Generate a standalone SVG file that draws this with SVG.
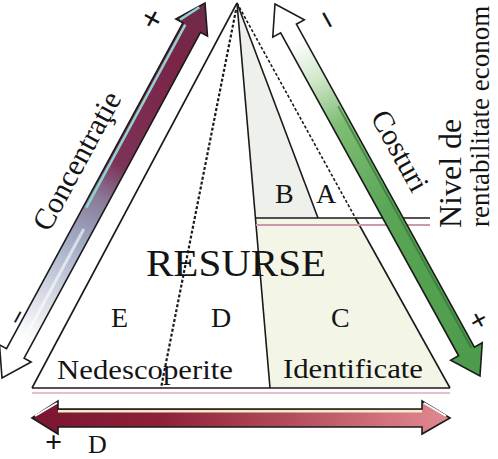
<svg xmlns="http://www.w3.org/2000/svg" width="498" height="459" viewBox="0 0 498 459">
<style>
  text { font-family: "Liberation Serif", "Times New Roman", serif; fill: #141414; }
  .ln { stroke: #1a1a1a; stroke-width: 1.6; fill: none; }
  .dash { stroke: #1a1a1a; stroke-width: 2.2; stroke-dasharray: 3 2; fill: none; }
  .arr { stroke: #1b1b1b; stroke-width: 1.6; stroke-linejoin: miter; }
  .lbl { font-size: 28px; }
  .sign { font-size: 34px; font-weight: bold; text-anchor: middle; }
  .sign-s { font-size: 30px; font-weight: bold; text-anchor: middle; }
</style>
<defs>
  <linearGradient id="gL" gradientUnits="userSpaceOnUse" x1="0" y1="0" x2="426.4" y2="0">
    <stop offset="0" stop-color="#ffffff"/>
    <stop offset="0.1" stop-color="#ffffff"/>
    <stop offset="0.22" stop-color="#d6dae4"/>
    <stop offset="0.36" stop-color="#a2adc6"/>
    <stop offset="0.48" stop-color="#8a7a98"/>
    <stop offset="0.57" stop-color="#7c3358"/>
    <stop offset="0.85" stop-color="#7a2446"/>
    <stop offset="1" stop-color="#6e2c4a"/>
  </linearGradient>
  <linearGradient id="gR" gradientUnits="userSpaceOnUse" x1="0" y1="0" x2="424.7" y2="0">
    <stop offset="0" stop-color="#ffffff"/>
    <stop offset="0.1" stop-color="#ffffff"/>
    <stop offset="0.2" stop-color="#d3e8cc"/>
    <stop offset="0.32" stop-color="#7fbd75"/>
    <stop offset="0.55" stop-color="#5aa657"/>
    <stop offset="1" stop-color="#4d9a4b"/>
  </linearGradient>
  <linearGradient id="gB" gradientUnits="userSpaceOnUse" x1="32" y1="0" x2="450" y2="0">
    <stop offset="0" stop-color="#7a1630"/>
    <stop offset="0.3" stop-color="#8d2038"/>
    <stop offset="0.6" stop-color="#b04a5a"/>
    <stop offset="0.85" stop-color="#d2737e"/>
    <stop offset="1" stop-color="#e08a90"/>
  </linearGradient>
</defs>

<rect width="498" height="459" fill="#ffffff"/>

<g id="regions">
  <polygon points="237,5 255.4,218 318,218" fill="#eef0eb"/>
  <polygon points="255.4,218 355.4,218 449,388 270,388" fill="#f3f6e6"/>
</g>

<g id="connectors">
  <line x1="237" y1="3" x2="32" y2="388" class="ln"/>
  <line x1="32" y1="388" x2="450" y2="388" class="ln" stroke-width="2"/>
  <line x1="32" y1="393" x2="450" y2="393" stroke="#dcaab8" stroke-width="1.5"/>
  <line x1="237" y1="3" x2="355.4" y2="218" class="dash" style="stroke-width:1.6"/>
  <line x1="355.4" y1="218" x2="450" y2="388" class="ln"/>
  <line x1="237" y1="3" x2="270" y2="388" class="ln"/>
  <line x1="237" y1="3" x2="318" y2="218" class="ln"/>
  <line x1="236" y1="10" x2="161" y2="388" class="dash"/>
  <line x1="255" y1="218" x2="430" y2="218" class="ln"/>
  <line x1="256" y1="225" x2="430" y2="225" stroke="#c99aab" stroke-width="2"/>
</g>

<g id="arrow-concentratie" transform="translate(2,378) rotate(-61.57)">
  <polygon class="arr" fill="url(#gL)" points="0,0 28,-18 28,-10 398.4,-10 398.4,-18 426.4,0 398.4,18 398.4,10 28,10 28,18"/>
  <line x1="190" y1="-7" x2="398" y2="-7" stroke="#8fd3cf" stroke-width="2.5"/>
  <line x1="400" y1="-14" x2="420" y2="-3" stroke="#8fd3cf" stroke-width="2.5"/>
  <line x1="40" y1="1" x2="170" y2="1" stroke="#ffffff" stroke-width="3" opacity="0.6"/>
</g>

<g id="arrow-costuri" transform="translate(275,4) rotate(61.14)">
  <polygon class="arr" fill="url(#gR)" points="0,0 28,-18 28,-9 396.7,-9 396.7,-18 424.7,0 396.7,18 396.7,9 28,9 28,18"/>
  <line x1="120" y1="-6" x2="396" y2="-6" stroke="#2e6e30" stroke-width="2" opacity="0.6"/>
</g>

<g id="arrow-d">
  <polygon class="arr" fill="url(#gB)" points="32,418 58,401 58,409 422,409 422,401 450,418 422,434 422,427 58,427 58,434"/>
  <line x1="58" y1="411.2" x2="422" y2="411.2" stroke="#f4ecc6" stroke-width="2.5"/>
  <line x1="35" y1="416" x2="57" y2="403" stroke="#ffffff" stroke-width="2"/>
  <line x1="424" y1="403" x2="446" y2="416" stroke="#ffffff" stroke-width="2"/>
</g>

<g id="labels">
  <text x="146" y="276" font-size="38" textLength="180" lengthAdjust="spacingAndGlyphs">RESURSE</text>
  <text class="lbl" x="111" y="327">E</text>
  <text class="lbl" x="211" y="327">D</text>
  <text class="lbl" x="331" y="327">C</text>
  <text class="lbl" x="275" y="203">B</text>
  <text class="lbl" x="316" y="203">A</text>
  <text x="57" y="379" font-size="27" textLength="176" lengthAdjust="spacingAndGlyphs">Nedescoperite</text>
  <text x="283" y="378" font-size="27" textLength="140" lengthAdjust="spacingAndGlyphs">Identificate</text>
  <text x="45" y="452" font-size="30" font-weight="bold">+</text>
  <text x="88" y="453" font-size="26">D</text>
  <text transform="translate(49,233) rotate(-61.57)" x="0" y="0" font-size="30">Concentraţie</text>
  <text transform="translate(370,117) rotate(61.14)" x="0" y="0" font-size="30">Costuri</text>
  <text transform="translate(461,228) rotate(-90)" x="0" y="0" font-size="32">Nivel de</text>
  <text transform="translate(489,227) rotate(-90)" x="0" y="0" font-size="27">rentabilitate econom</text>
  <text class="sign" transform="translate(154,20) rotate(-61.57)" x="0" y="9">+</text>
  <text transform="translate(19,318) rotate(-61.57)" x="0" y="7" font-size="26" font-weight="bold" text-anchor="middle">−</text>
  <text class="sign" transform="translate(325,21) rotate(61.14)" x="0" y="9">−</text>
  <text class="sign-s" transform="translate(477,321) rotate(61.14)" x="0" y="8">+</text>
</g>
</svg>
